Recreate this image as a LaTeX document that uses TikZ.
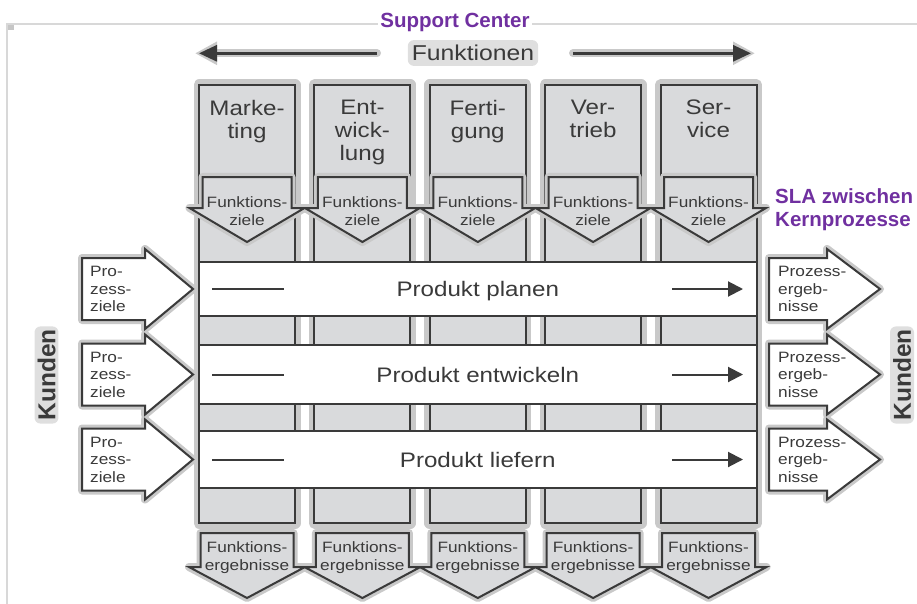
\documentclass[tikz,border=0pt]{standalone}
\usepackage{fontspec}
\setmainfont{Liberation Sans}[FakeStretch=1.15]
\newfontfamily\plainsans{Liberation Sans}
\usetikzlibrary{arrows.meta}
\definecolor{ink}{HTML}{3A3A3A}
\definecolor{colgray}{HTML}{D9DADC}
\definecolor{glow}{HTML}{C9C9C9}
\definecolor{framegray}{HTML}{D8D8D8}
\definecolor{slapurple}{HTML}{7030A0}
\tikzset{
  outl/.style={draw=ink, line width=2pt, line join=miter},
  halo/.style={draw=glow, line width=#1, line join=round},
  halo/.default=9pt,
  lbl/.style={inner sep=0pt, text=ink},
  glowbox/.style={fill=glow!60, rounded corners=6pt},
  bigtxt/.style={lbl, font=\fontsize{21}{23}\selectfont, align=center},
  smalltxt/.style={lbl, font=\fontsize{15}{18}\selectfont, align=center},
  arrtxt/.style={lbl, font=\fontsize{15}{17.5}\selectfont, align=left, anchor=north west},
  kunden/.style={inner sep=0pt, rotate=90, font=\plainsans\bfseries\fontsize{24.5}{26}\selectfont},
  purpletxt/.style={inner sep=0pt, text=slapurple, font=\plainsans\bfseries\fontsize{20.5}{23.5}\selectfont},
}
\def\cols{247,362.4,477.8,593.1,708.5}
\def\rows{289,374.5,459.5}
\begin{document}
\begin{tikzpicture}[x=1pt,y=-1pt]
\useasboundingbox (0,0) rectangle (917,604);

% thin page frame
\fill[framegray!80!gray] (6,23) rectangle (14,30);
\draw[framegray, line width=1.5pt] (6,24) -- (917,24);
\draw[framegray, line width=1.5pt] (7,24) -- (7,604);

% function columns
\foreach \c in \cols
  \draw[halo=11pt] (\c-48,85) rectangle (\c+48,523);
\foreach \c in \cols
  \draw[outl, fill=colgray] (\c-48,85) rectangle (\c+48,523);

% "Funktionsziele" arrows inside the columns
\foreach \c in \cols
  \draw[halo=8pt] (\c-44.5,177) -- (\c+44.5,177) -- (\c+44.5,208) -- (\c+57.5,208)
    -- (\c,242) -- (\c-57.5,208) -- (\c-44.5,208) -- cycle;
\foreach \c in \cols
  \draw[outl, fill=colgray] (\c-44.5,177) -- (\c+44.5,177) -- (\c+44.5,208) -- (\c+57.5,208)
    -- (\c,242) -- (\c-57.5,208) -- (\c-44.5,208) -- cycle;

% process bands across the columns
\foreach \t/\b in {262/316,345/404,430.5/488}
  \draw[outl, fill=white] (199,\t) rectangle (756.5,\b);

% process goal / result arrows left and right
\foreach \y in \rows {
  \draw[halo=8pt] (82,\y-31) -- (145,\y-31) -- (145,\y-40) -- (193,\y)
    -- (145,\y+40) -- (145,\y+31) -- (82,\y+31) -- cycle;
  \draw[halo=8pt] (769,\y-31) -- (827,\y-31) -- (827,\y-40) -- (880,\y)
    -- (827,\y+40) -- (827,\y+31) -- (769,\y+31) -- cycle;
}
\foreach \y in \rows {
  \draw[outl, fill=white] (82,\y-31) -- (145,\y-31) -- (145,\y-40) -- (193,\y)
    -- (145,\y+40) -- (145,\y+31) -- (82,\y+31) -- cycle;
  \draw[outl, fill=white] (769,\y-31) -- (827,\y-31) -- (827,\y-40) -- (880,\y)
    -- (827,\y+40) -- (827,\y+31) -- (769,\y+31) -- cycle;
}

% "Funktionsergebnisse" arrows below the columns
\foreach \c in \cols
  \draw[halo=8pt] (\c-46.5,533) -- (\c+46.5,533) -- (\c+46.5,567) -- (\c+58,567)
    -- (\c,598) -- (\c-58,567) -- (\c-46.5,567) -- cycle;
\foreach \c in \cols
  \draw[outl, fill=colgray] (\c-46.5,533) -- (\c+46.5,533) -- (\c+46.5,567) -- (\c+58,567)
    -- (\c,598) -- (\c-58,567) -- (\c-46.5,567) -- cycle;

% flow marks inside each band
\foreach \y [count=\n] in \rows {
  \coordinate (ls-\n) at (212,\y);
  \coordinate (le-\n) at (284,\y);
  \coordinate (as-\n) at (672,\y);
  \coordinate (ae-\n) at (743,\y);
  \draw[ink, line width=2pt] (ls-\n) -- (le-\n);
  \draw[ink, line width=2pt, -{Triangle[length=15pt,width=15pt]}] (as-\n) -- (ae-\n);
}

% band titles
\node[lbl, font=\fontsize{21}{23}\selectfont, anchor=base] (pplan) at (477.75,296.5) {Produkt planen};
\node[lbl, font=\fontsize{21}{23}\selectfont, anchor=base] (pentw) at (477.75,382) {Produkt entwickeln};
\node[lbl, font=\fontsize{21}{23}\selectfont, anchor=base] (plief) at (477.75,467) {Produkt liefern};

% column titles
\foreach \c/\n/\t in {247/1/{Marke-\\ting}, 362.4/2/{Ent-\\wick-\\lung}, 477.8/3/{Ferti-\\gung},
                      593.1/4/{Ver-\\trieb}, 708.5/5/{Ser-\\vice}}
  \node[bigtxt, anchor=north] (ct-\n) at (\c,100) {\t};

% texts of the column arrows
\foreach \c [count=\n] in \cols {
  \node[smalltxt, anchor=north] (fz-\n) at (\c,196.5) {Funktions-\\ziele};
  \node[smalltxt, anchor=north] (fe-\n) at (\c,541.5) {Funktions-\\ergebnisse};
}

% texts of the process arrows
\foreach \y [count=\n] in \rows {
  \node[arrtxt] (pz-\n) at (90,\y-23) {Pro-\\zess-\\ziele};
  \node[arrtxt] (pe-\n) at (778,\y-23) {Prozess-\\ergeb-\\nisse};
}

% "Funktionen" heading with its two arrows
\node[lbl, glowbox, inner xsep=4pt, inner ysep=5pt, font=\fontsize{21.5}{23}\selectfont] (funk) at (473,53) {Funktionen};
\coordinate (fl-s) at (377,53.3);
\coordinate (fl-e) at (199,53.3);
\coordinate (fr-s) at (573,53.3);
\coordinate (fr-e) at (751,53.3);
\draw[glow, line width=8pt, line cap=round, -{Triangle[length=22pt,width=22pt]}] (fl-s) -- ([xshift=-4pt]fl-e);
\draw[glow, line width=8pt, line cap=round, -{Triangle[length=22pt,width=22pt]}] (fr-s) -- ([xshift=4pt]fr-e);
\draw[ink, line width=3pt, -{Triangle[length=18pt,width=16pt]}] (fl-s) -- (fl-e);
\draw[ink, line width=3pt, -{Triangle[length=18pt,width=16pt]}] (fr-s) -- (fr-e);

% customers on both sides
\node[kunden, glowbox, inner sep=3pt, text=ink] (kl) at (46.5,375) {Kunden};
\node[kunden, glowbox, inner sep=3pt, text=ink] (kr) at (902,375) {Kunden};

% purple annotations
\node[purpletxt, fill=white, inner sep=2pt] (support) at (455,22) {Support Center};
\node[purpletxt, anchor=north west, align=left] (sla) at (775,188) {SLA zwischen\\Kernprozesse};
\end{tikzpicture}
\end{document}
